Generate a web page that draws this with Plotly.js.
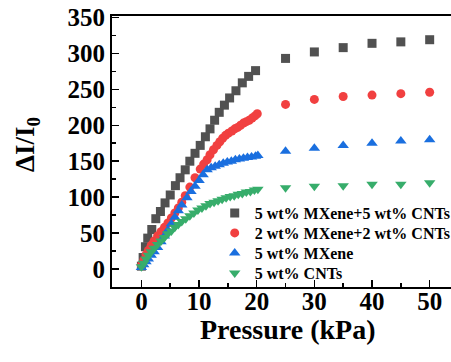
<!DOCTYPE html>
<html>
<head>
<meta charset="utf-8">
<script src="https://cdn.plot.ly/plotly-3.0.1.min.js"></script>
<style>html,body{margin:0;padding:0;background:#fff;}#chart{width:451px;height:362px;}</style>
</head>
<body>
<div id="chart"></div>
<script>
// Series labels
const seriesNames = ["5 wt% MXene+5 wt% CNTs", "2 wt% MXene+2 wt% CNTs", "5 wt% MXene", "5 wt% CNTs"];

// 5 wt% MXene + 5 wt% CNTs (black squares)
const pressureA = [0, 0.3, 0.7, 1.1, 1.8, 2.5, 3.3, 4.1, 5.0, 5.9, 6.7, 7.6, 8.4, 9.3, 10.2, 11.1, 11.9, 12.7, 13.5, 14.4, 15.3, 16.4, 17.5, 18.6, 19.8, 25, 30, 35, 40, 45, 50];
const responseA = [4, 16, 31, 43, 55, 70, 80, 92, 103, 116, 127, 138, 150, 161, 172, 184, 195, 207, 218, 228, 238, 248, 259, 268, 276, 293, 302, 308, 314, 316, 319];

// 2 wt% MXene + 2 wt% CNTs (red circles)
const pressureB = [0, 0.4, 0.8, 1.2, 1.7, 2.2, 2.8, 3.4, 4.0, 4.6, 5.2, 5.8, 6.4, 7.0, 7.6, 8.4, 9.3, 10.2, 10.8, 11.4, 11.9, 12.5, 13.1, 13.6, 14.1, 14.6, 15.1, 15.7, 16.2, 16.7, 17.2, 17.7, 18.2, 18.7, 19.2, 19.7, 20.1, 25, 30, 35, 40, 45, 50];
const responseB = [5, 12, 20, 26, 33, 39, 46, 52, 58, 64, 71, 78, 85, 93, 102, 114, 127, 139, 146, 152, 159, 166, 172, 177, 182, 186, 189, 192, 195, 197, 200, 203, 205, 207, 210, 213, 216, 229, 236, 240, 242, 244, 246];

// 5 wt% MXene (blue up-triangles)
const pressureC = [0, 0.4, 0.8, 1.2, 1.7, 2.2, 2.8, 3.4, 4.0, 4.6, 5.2, 5.8, 6.4, 7.0, 7.9, 8.6, 9.3, 10.0, 10.7, 11.4, 12.1, 12.8, 13.5, 14.2, 14.9, 15.6, 16.3, 17.0, 17.7, 18.4, 19.1, 19.8, 20.2, 25, 30, 35, 40, 45, 50];
const responseC = [2, 6, 10, 14, 19, 24, 30, 38, 46, 54, 63, 72, 81, 89, 99, 108, 115, 123, 131, 138, 141, 143, 145, 147, 149, 150, 152, 153, 154, 155, 156, 157, 158, 164, 168, 172, 175, 178, 180];

// 5 wt% CNTs (green down-triangles)
const pressureD = [0, 0.4, 0.8, 1.2, 1.7, 2.2, 2.8, 3.4, 4.0, 4.6, 5.2, 5.8, 6.4, 7.0, 7.7, 8.4, 9.1, 9.8, 10.5, 11.2, 11.9, 12.6, 13.3, 14.0, 14.7, 15.4, 16.1, 16.8, 17.5, 18.2, 18.9, 19.6, 20.2, 25, 30, 35, 40, 45, 50];
const responseD = [3, 8, 14, 19, 24, 29, 34, 39, 44, 49, 53, 58, 62, 66, 70, 74, 78, 82, 85, 88, 91, 93, 95, 97, 99, 101, 102, 104, 105, 107, 108, 110, 111, 113, 115, 116, 118, 118, 120];

const colors = ["#515151", "#F14040", "#1A6FDF", "#37AD6B"];
const symbols = ["square", "circle", "triangle-up", "triangle-down"];

const xs = [pressureA, pressureB, pressureC, pressureD];
const ys = [responseA, responseB, responseC, responseD];
const legendIds = ["legend", "legend2", "legend3", "legend4"];

const traces = seriesNames.map((n, i) => ({
  x: xs[i], y: ys[i], name: n, type: "scatter", mode: "markers",
  legend: legendIds[i],
  marker: {symbol: symbols[i], color: colors[i], size: i === 0 ? 9 : (i === 1 ? 9 : 10), line: {width: 0}},
  cliponaxis: false
}));

const FAM = "Liberation Serif";

// legend row centres (px from top of figure) -> paper coords
const plotTop = 16, plotBottom = 287, plotH = plotBottom - plotTop;
const rowCentres = [213, 233, 253, 273];
function legendAt(yc) {
  return {
    x: 0.303, xanchor: "left", y: (plotBottom - yc) / plotH, yanchor: "middle",
    bgcolor: "rgba(0,0,0,0)", borderwidth: 0,
    font: {family: FAM, size: 16, color: "#000", weight: "bold"},
    itemsizing: "trace"
  };
}

const layout = {
  width: 451, height: 362,
  margin: {l: 112, r: 0, t: plotTop, b: 362 - plotBottom, autoexpand: false},
  paper_bgcolor: "#fff", plot_bgcolor: "#fff",
  showlegend: true,
  legend: legendAt(rowCentres[0]),
  legend2: legendAt(rowCentres[1]),
  legend3: legendAt(rowCentres[2]),
  legend4: legendAt(rowCentres[3]),
  xaxis: {
    range: [-5.1, 53.7], showgrid: false, zeroline: false,
    showline: true, linecolor: "#000", linewidth: 2, mirror: true,
    ticks: "inside", ticklen: 7, tickwidth: 1.5, tickcolor: "#000",
    tick0: 0, dtick: 10, ticklabelstandoff: -9,
    minor: {dtick: 5, ticks: "inside", ticklen: 4, tickwidth: 1.5, tickcolor: "#000", showgrid: false},
    tickfont: {family: FAM, size: 25, color: "#000", weight: "bold"}
  },
  yaxis: {
    range: [-25, 352], showgrid: false, zeroline: false,
    showline: true, linecolor: "#000", linewidth: 2, mirror: false,
    ticks: "inside", ticklen: 7, tickwidth: 1.5, tickcolor: "#000",
    tick0: 0, dtick: 50,
    minor: {dtick: 25, ticks: "inside", ticklen: 4, tickwidth: 1.5, tickcolor: "#000", showgrid: false},
    tickfont: {family: FAM, size: 25, color: "#000", weight: "bold"}
  },
  annotations: [
    {text: "Pressure (kPa)", xref: "paper", yref: "paper", x: (287.5 - 112) / 339, y: -(329 - 287) / 271,
     xanchor: "center", yanchor: "middle", showarrow: false,
     font: {family: FAM, size: 28, color: "#000", weight: "bold"}},
    {text: "ΔI/I<sub>0</sub>", xref: "paper", yref: "paper", x: -(112 - 27) / 339, y: (287 - 145) / 271,
     xanchor: "center", yanchor: "middle", textangle: -90, showarrow: false,
     font: {family: FAM, size: 27, color: "#000", weight: "bold"}}
  ]
};

Plotly.newPlot("chart", traces, layout, {displayModeBar: false, staticPlot: true});
</script>
</body>
</html>
